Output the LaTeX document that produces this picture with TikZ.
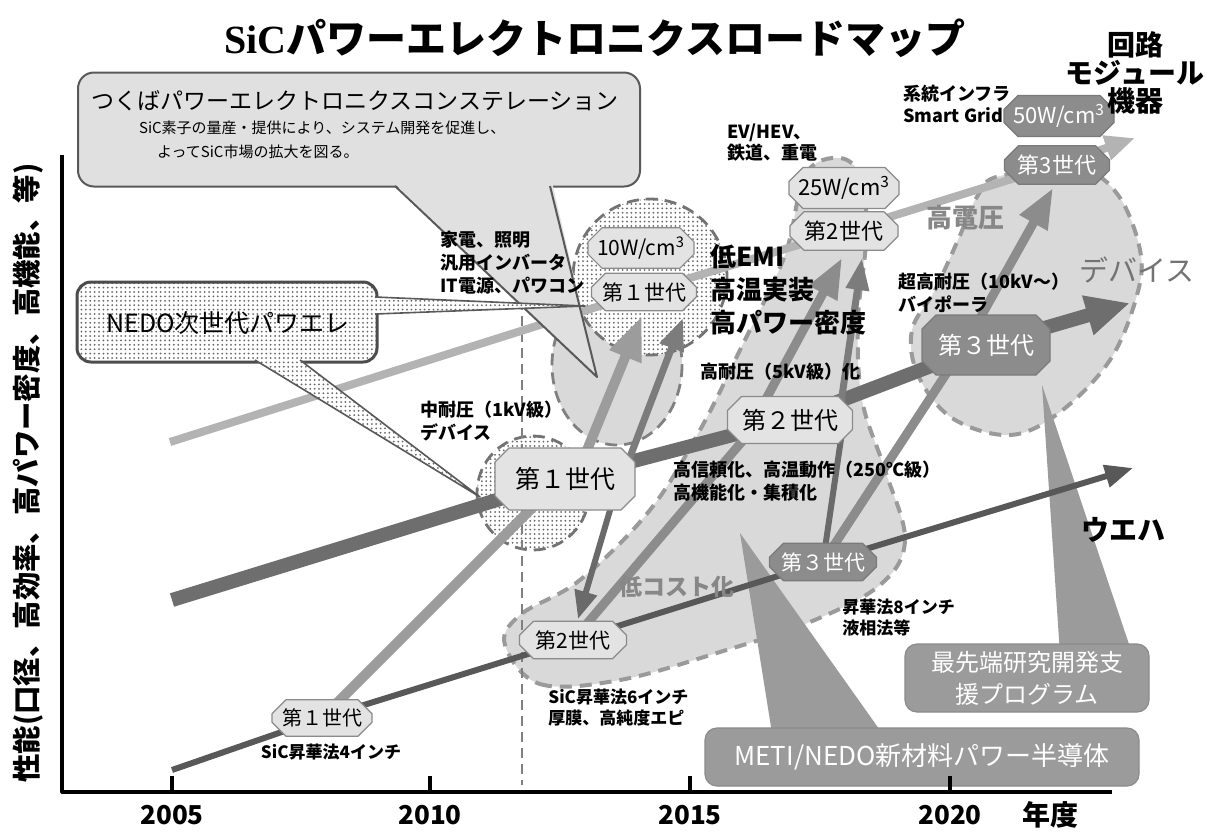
\documentclass[tikz,border=0pt]{standalone}
\usepackage{fontspec}
\setmainfont{Noto Sans CJK JP}
\newfontfamily\serifbold{Liberation Serif}
\usetikzlibrary{shapes.misc,patterns,arrows.meta,calc}
\pgfdeclarelayer{blobs}
\pgfdeclarelayer{lines}
\pgfsetlayers{blobs,lines,main}
\pgfdeclarepatternformonly{finedots}{\pgfqpoint{-1pt}{-1pt}}{\pgfqpoint{3pt}{3pt}}{\pgfqpoint{2.2pt}{2.2pt}}{\pgfpathcircle{\pgfqpoint{1.1pt}{1.1pt}}{0.5pt}\pgfusepath{fill}}
\newcommand{\myfs}[2]{\fontsize{#1}{#2}\selectfont}
\definecolor{nodelight}{HTML}{E3E3E3}
\definecolor{nodeedge}{HTML}{8A8A8A}
\definecolor{nodedark}{HTML}{8C8C8C}
\definecolor{nodedarkedge}{HTML}{7A7A7A}
\definecolor{blobfill}{HTML}{D9D9D9}
\definecolor{blobedge}{HTML}{9A9A9A}
\definecolor{modcol}{HTML}{B3B3B3}
\definecolor{devcol}{HTML}{6E6E6E}
\definecolor{wafcol}{HTML}{585858}
\definecolor{progfill}{HTML}{9B9B9B}
\definecolor{callfill}{HTML}{E0E0E0}
\definecolor{graytext}{HTML}{878787}
\definecolor{arrA}{HTML}{9C9C9C}
\definecolor{arrB}{HTML}{7C7C7C}
\definecolor{arrC}{HTML}{6A6A6A}
\definecolor{arrD}{HTML}{8C8C8C}
\tikzset{
  gen/.style={chamfered rectangle, chamfered rectangle xsep=3.5pt, chamfered rectangle ysep=3.5pt,
    draw=nodeedge, line width=0.6pt, fill=nodelight, inner xsep=1pt, inner ysep=1pt},
  gendark/.style={gen, fill=nodedark, draw=nodedarkedge, text=white},
  blob/.style={fill=blobfill, draw=blobedge, line width=2pt, dash pattern=on 6pt off 4pt},
  stipblob/.style={preaction={fill=white}, pattern=finedots, pattern color=black!60,
    draw=black!55, line width=1.4pt, dash pattern=on 6pt off 3.5pt},
  progbox/.style={rounded corners=6pt, fill=progfill, draw=progfill!90!black, text=white, line width=0.6pt},
  lbl/.style={anchor=west, align=left, inner sep=0pt, font=\bfseries\myfs{9}{11.5}},
  slbl/.style={anchor=west, align=left, inner sep=0pt, font=\bfseries\myfs{8.5}{10.5}},
  ytick/.style={line width=1.6pt},
  ylbl/.style={font=\bfseries\myfs{13}{13}},
}
\begin{document}
\begin{tikzpicture}[x=0.5pt,y=-0.5pt,line join=round]
\useasboundingbox (0,0) rectangle (1209,831);

% ---------- program call-out boxes
\node[progbox, minimum width=217pt, minimum height=29pt, font=\myfs{13}{15}] (meti) at (922,757) {METI/NEDO新材料パワー半導体};
\node[progbox, minimum width=122pt, minimum height=34pt, align=center, font=\myfs{12}{16}] (sent) at (1027,678) {最先端研究開発支\\援プログラム};

% ---------- generation nodes
\node[gen, minimum width=50pt, minimum height=17pt, font=\myfs{10}{10}] (w1) at (322,718) {第１世代};
\node[gen, minimum width=53.5pt, minimum height=17.5pt, font=\myfs{10.5}{10}] (w2) at (573,640) {第2世代};
\node[gendark, minimum width=53.5pt, minimum height=17.5pt, font=\myfs{10.5}{10}] (w3) at (823,562) {第３世代};

\node[gen, minimum width=70pt, minimum height=31pt, font=\myfs{12.5}{12}] (d1) at (565,479) {第１世代};
\node[gen, minimum width=62.5pt, minimum height=23.5pt, font=\myfs{12}{12}] (d2) at (790,420) {第２世代};
\node[gendark, minimum width=64pt, minimum height=30pt, font=\myfs{12}{12}] (d3) at (986,345) {第３世代};

\node[gen, minimum width=51.5pt, minimum height=16.5pt, font=\myfs{10.5}{10}] (m1w) at (641,248) {10W/cm\textsuperscript{3}};
\node[gen, minimum width=52.5pt, minimum height=17.5pt, font=\myfs{10.5}{10}] (m1) at (644,292) {第１世代};
\node[gen, minimum width=54pt, minimum height=19.5pt, font=\myfs{11}{10}] (m2w) at (844,188) {25W/cm\textsuperscript{3}};
\node[gen, minimum width=54pt, minimum height=19pt, font=\myfs{11}{10}] (m2) at (844,231) {第2世代};
\node[gendark, minimum width=51pt, minimum height=16pt, font=\myfs{11}{10}] (m3w) at (1059,116) {50W/cm\textsuperscript{3}};
\node[gendark, minimum width=52.5pt, minimum height=17pt, font=\myfs{11}{10}] (m3) at (1057,165) {第3世代};

% ---------- free ends and bends
\coordinate (mstart) at (170,442);
\coordinate (mend) at (1135,138);
\coordinate (dstart) at (172,600);
\coordinate (dend) at (1130,303);
\coordinate (wstart) at (172,770);
\coordinate (wend) at (1133,468);
\coordinate (a1bend) at (585,455);
\coordinate (a1tip) at (642,316);
\coordinate (a2from) at (625,470);
\coordinate (a2tip) at (683,318);
\coordinate (a3from) at (613,500);
\coordinate (a3tip) at (578,619);
\coordinate (a4bend) at (745,438);
\coordinate (a4tip) at (842,258);
\coordinate (a5from) at (840,410);
\coordinate (a5tip) at (862,258);
\coordinate (a6bend) at (965,345);
\coordinate (a6tip) at (1053,188);
\coordinate (a7to) at (842,432);
\coordinate (metitip) at (740,533);
\coordinate (senttip) at (1042,385);

% ---------- blobs and program tails
\begin{pgfonlayer}{blobs}
\fill[white] (0,0) rectangle (1209,831);
\draw[blob] plot[smooth cycle, tension=0.6] coordinates {(505,645) (540,684) (620,680) (720,652) (810,622) (880,585) (905,540) (885,470) (862,400) (858,320) (866,240) (862,180) (840,158) (805,175) (785,255) (740,350) (700,430) (650,510) (580,580) (520,615)};
\draw[blob] plot[smooth cycle, tension=0.6] coordinates {(1000,176) (1080,170) (1118,195) (1140,250) (1137,295) (1110,360) (1060,412) (1010,435) (952,418) (918,375) (912,330) (935,290) (958,240) (978,195)};
\draw[blob, draw=black!50, line width=1.4pt, dash pattern=on 6pt off 3.5pt] (617,365) ellipse [x radius=65, y radius=80];
\draw[stipblob] (650,277) ellipse [x radius=77, y radius=78];
\draw[stipblob] (533,493) ellipse [x radius=56, y radius=57];
\fill[progfill] (metitip) -- ($(meti.north west)+(67,2)$) -- ($(meti.north west)+(175,2)$) -- cycle;
\fill[progfill] (senttip) -- ($(sent.north west)+(155,2)$) -- ($(sent.north west)+(225,2)$) -- cycle;
\end{pgfonlayer}

% ---------- lines and arrows
\begin{pgfonlayer}{lines}
\draw[gray, line width=0.8pt, dash pattern=on 5pt off 3pt] (522,300) -- (522,785);
\draw[modcol, line width=4pt, -{Triangle[length=15pt,width=12pt]}] (mstart) -- (m1.center) -- (m2.center) -- (m3.center) -- (mend);
\draw[devcol, line width=7pt, -{Triangle[length=22pt,width=19pt]}] (dstart) -- (d1.center) -- (d2.center) -- (d3.center) -- (dend);
\draw[wafcol, line width=3pt, -{Triangle[length=14pt,width=11pt]}] (wstart) -- (w1.center) -- (w2.center) -- (w3.center) -- (wend);
\draw[arrA, line width=5pt, -{Triangle[length=22pt,width=16pt]}] (w1.center) -- (a1bend) -- (a1tip);
\draw[arrB, line width=3.5pt, -{Triangle[length=16pt,width=12pt]}] (a2from) -- (a2tip);
\draw[arrD, line width=4.5pt, -{Triangle[length=20pt,width=15pt]}] (w2.center) -- (a4bend) -- (a4tip);
\draw[arrC, line width=3pt, -{Triangle[length=14pt,width=11pt]}] (a3from) -- (a3tip);
\draw[arrB, line width=3.5pt, -{Triangle[length=16pt,width=11pt]}] (a5from) -- (a5tip);
\draw[arrD, line width=4.5pt, -{Triangle[length=20pt,width=15pt]}] (w3.center) -- (a6bend) -- (a6tip);
\draw[arrC, line width=3pt] (w3.center) -- (a7to);
\end{pgfonlayer}

% ---------- Tsukuba call-out
\node[draw=black!65, line width=1pt, fill=callfill, rounded corners=8pt, minimum width=281pt, minimum height=57pt] (tsk) at (359,129.5) {};
\coordinate (tskL) at (395,186);
\coordinate (tskR) at (550,186);
\coordinate (tsktip) at (597,377);
\fill[callfill] ($(tskL)+(-2,-4)$) -- (tsktip) -- ($(tskR)+(2,-4)$) -- cycle;
\draw[black!65, line width=1pt] (tskL) -- (tsktip) -- (tskR);
\node[font=\myfs{11.5}{12}] (tsk1) at (355,101) {つくばパワーエレクトロニクスコンステレーション};
\node[anchor=west, font=\myfs{7.5}{8}] (tsk2) at (132,128) {SiC素子の量産・提供により、システム開発を促進し、};
\node[anchor=west, font=\myfs{7.5}{8}] (tsk3) at (150,152) {よってSiC市場の拡大を図る。};

% ---------- NEDO call-out
\node[preaction={fill=white}, pattern=finedots, pattern color=black!60, draw=black!70, line width=1.5pt, rounded corners=7pt, minimum width=150pt, minimum height=40pt] (nedo) at (227,322) {};
\coordinate (nu1) at (375,297);
\coordinate (nu2) at (375,314);
\coordinate (nutip) at (585,306);
\coordinate (nl1) at (255,360);
\coordinate (nl2) at (300,360);
\coordinate (nltip) at (480,497);
\fill[white] (nu1) -- (nutip) -- (nu2) -- cycle;
\fill[pattern=finedots, pattern color=black!60] (nu1) -- (nutip) -- (nu2) -- cycle;
\draw[black!65, line width=0.8pt] (nu1) -- (nutip) -- (nu2);
\fill[white] (nl1) -- (nltip) -- (nl2) -- cycle;
\fill[pattern=finedots, pattern color=black!60] (nl1) -- (nltip) -- (nl2) -- cycle;
\draw[black!65, line width=0.8pt] (nl1) -- (nltip) -- (nl2);
\node[font=\myfs{12.5}{12}] (nedotxt) at (228,323) {NEDO次世代パワエレ};

% ---------- labels
\node[lbl] (lb1) at (440,263) {家電、照明\\汎用インバータ\\IT電源、パワコン};
\node[lbl] (lb2) at (420,421) {中耐圧（1kV級）\\デバイス};
\node[lbl, font=\bfseries\myfs{9}{10.5}] (lb3) at (727,142.5) {EV/HEV、\\鉄道、重電};
\node[lbl, font=\bfseries\myfs{9}{11}] (lb4) at (903,103.5) {系統インフラ\\Smart Grid};
\node[lbl] (lb5) at (898,292.5) {超高耐圧（10kV～）\\バイポーラ};
\node[lbl] (lb6) at (700,372) {高耐圧（5kV級）化};
\node[lbl] (lb7) at (673,481.5) {高信頼化、高温動作（250℃級）\\高機能化・集積化};
\node[slbl, anchor=center] (lb8) at (331,752) {SiC昇華法4インチ};
\node[slbl] (lb9) at (548,707.5) {SiC昇華法6インチ\\厚膜、高純度エピ};
\node[slbl] (lb10) at (842,617.5) {昇華法8インチ\\液相法等};
\node[lbl, font=\bfseries\myfs{13}{16.5}] (lb11) at (710,290) {低EMI\\高温実装\\高パワー密度};
\node[font=\bfseries\myfs{13}{13}, text=graytext] (gt1) at (965,218) {高電圧};
\node[font=\bfseries\myfs{11.5}{12}, text=graytext] (gt2) at (677,587) {低コスト化};
\node[font=\myfs{14.5}{15}, text=black!55] (gt3) at (1137,270) {デバイス};
\node[font=\bfseries\myfs{14}{14}] (wafer) at (1123,530) {ウエハ};

% ---------- title
\node[font=\bfseries\myfs{20}{24}] (title) at (595,38) {{\serifbold\bfseries SiC}パワーエレクトロニクスロードマップ};
\node[font=\bfseries\myfs{14}{14}, align=center] (circ) at (1135,73) {回路\\モジュール\\機器};

% ---------- axes
\draw[line width=1.6pt] (62,155) -- (62,792) -- (1112,792);
\foreach \xx in {172,430,690,950} \draw[ytick] (\xx,792) -- (\xx,776);
\node[ylbl] (x2005) at (172,815) {2005};
\node[ylbl] (x2010) at (430,815) {2010};
\node[ylbl] (x2015) at (690,815) {2015};
\node[ylbl] (x2020) at (950,815) {2020};
\node[font=\bfseries\myfs{14}{14}] (nendo) at (1050,815) {年度};
\node[rotate=90, font=\bfseries\myfs{14.2}{14}] (yaxis) at (28,473) {性能(口径、高効率、高パワー密度、高機能、等)};
\end{tikzpicture}
\end{document}
